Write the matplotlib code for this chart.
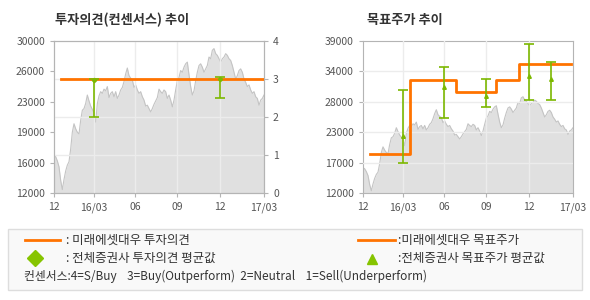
import numpy as np
import matplotlib
matplotlib.use("Agg")
import matplotlib.pyplot as plt
from matplotlib.patches import Rectangle
from matplotlib.lines import Line2D

plt.rcParams['font.family'] = ['Noto Sans CJK KR', 'DejaVu Sans']

# 주가 (일정 간격 샘플, 단위: 원)
price = [16500, 16300, 15800, 15100, 13500, 12400, 13600, 14600, 15300, 15700,
         17200, 19200, 20200, 19600, 19200, 19000, 20600, 21800, 22000, 22600,
         23600, 22900, 22300, 21900, 21500, 20400, 22600, 23500, 24000, 23800,
         24300, 24100, 24600, 23300, 23800, 24000, 23400, 24000, 23200, 23600,
         24200, 24500, 25200, 26100, 26800, 25900, 25600, 25400, 24500, 24800,
         24200, 23800, 24000, 23400, 23000, 22300, 22400, 22000, 21600, 22000,
         22500, 22900, 23300, 24300, 24000, 23800, 24200, 24000, 23200, 23600,
         23000, 22200, 23000, 24200, 25300, 25700, 26500, 26300, 26900, 27300,
         27500, 26000, 24600, 23600, 24100, 25300, 26300, 27100, 27300, 26900,
         26300, 26700, 27100, 28100, 27900, 28900, 29100, 28500, 28300, 27900,
         27500, 27900, 28100, 28500, 28300, 27900, 27700, 27100, 26300, 25500,
         25900, 26500, 26700, 26300, 25500, 25100, 24600, 24800, 24200, 23800,
         24000, 23400, 23200, 22400, 23000, 23200, 23600]
x = np.arange(len(price))

xtick_pos = [0, 24, 48.6, 73.8, 99.4, 126]
xtick_lab = ["12", "16/03", "06", "09", "12", "17/03"]

# 투자의견
opinion_x = [4, 125.4]
opinion_val = [3, 3]
cons_x = [24, 99.4]
cons_mean = [2.98, 3.0]
cons_low = [2.0, 2.5]
cons_high = [3.0, 3.05]

# 목표주가
target_x = [4, 28, 55.6, 79.6, 93.4, 125]
target_val = [19000, 32000, 30000, 32000, 35000, 35000]
tp_x = [24, 48.4, 73.8, 99.6, 113]
tp_mean = [22100, 30800, 29200, 32700, 32300]
tp_low = [17400, 25400, 27300, 28500, 28500]
tp_high = [30300, 34300, 32300, 38400, 35200]

orange = '#ff7300'
green = '#7cb800'
gray_txt = '#555555'
spine_c = '#b4b4b4'
grid_c = '#ececec'

fig = plt.figure(figsize=(5.9, 3.0), dpi=100)


def style(ax, ymin, ymax):
    ax.set_xlim(0, len(price) - 1)
    ax.set_ylim(ymin, ymax)
    ax.fill_between(x, ymin, price, color='#e0e0e0', lw=0, zorder=1)
    ax.plot(x, price, color='#c4c4c4', lw=0.8, zorder=2)
    ax.set_xticks(xtick_pos)
    ax.set_xticklabels(xtick_lab)
    ticks = np.linspace(ymin, ymax, 6)
    ax.set_yticks(ticks)
    ax.set_yticklabels(["%d" % (round(t / 1000) * 1000) for t in ticks])
    for v in xtick_pos[1:-1]:
        ax.axvline(v, color=grid_c, lw=1.0, zorder=3)
    for s in ax.spines.values():
        s.set_color(spine_c)
    ax.tick_params(colors=spine_c, labelcolor=gray_txt, labelsize=7.5, length=3)


# ---- 투자의견(컨센서스) 추이 ----
ax1 = fig.add_axes([54 / 590, 1 - 193 / 300, 210 / 590, 152 / 300])
style(ax1, 12000, 30000)
ax1b = ax1.twinx()
ax1b.set_ylim(0, 4)
ax1b.set_yticks([0, 1, 2, 3, 4])
for v in [1, 2, 3]:
    ax1b.axhline(v, color=grid_c, lw=1.0, zorder=1)
ax1b.tick_params(colors=spine_c, labelcolor=gray_txt, labelsize=7.5, length=3)
for s in ax1b.spines.values():
    s.set_color(spine_c)
ax1b.plot(opinion_x, opinion_val, color=orange, lw=2.0, zorder=4)
err = [np.array(cons_mean) - np.array(cons_low), np.array(cons_high) - np.array(cons_mean)]
ax1b.errorbar(cons_x, cons_mean, yerr=err, fmt='D', ms=2.2, color=green,
              elinewidth=1.2, capsize=3.5, capthick=1.2, zorder=5)
fig.text(55 / 590, 1 - 20 / 300, "투자의견(컨센서스) 추이", fontsize=9.5, fontweight='bold',
         color='#333333', va='center')

# ---- 목표주가 추이 ----
ax2 = fig.add_axes([363 / 590, 1 - 193 / 300, 210 / 590, 152 / 300])
style(ax2, 12000, 39000)
for t in np.linspace(12000, 39000, 6)[1:-1]:
    ax2.axhline(t, color=grid_c, lw=1.0, zorder=3)
ax2.step(target_x, target_val, where='post', color=orange, lw=2.0, zorder=4)
err2 = [np.array(tp_mean) - np.array(tp_low), np.array(tp_high) - np.array(tp_mean)]
ax2.errorbar(tp_x, tp_mean, yerr=err2, fmt='^', ms=2.6, color=green,
             elinewidth=1.2, capsize=3.5, capthick=1.2, zorder=5)
fig.text(367 / 590, 1 - 20 / 300, "목표주가 추이", fontsize=9.5, fontweight='bold',
         color='#333333', va='center')

# ---- 범례 ----
fig.patches.append(Rectangle((8 / 590, 1 - 290 / 300), 574 / 590, 61 / 300,
                             transform=fig.transFigure, facecolor='#f9f9f9',
                             edgecolor='#dddddd', lw=1.0))


def fy(py):
    return 1 - py / 300


def fx(px):
    return px / 590


fig.lines.append(Line2D([fx(25), fx(60)], [fy(240), fy(240)], transform=fig.transFigure,
                        color=orange, lw=2.0))
fig.lines.append(Line2D([fx(358), fx(395)], [fy(240), fy(240)], transform=fig.transFigure,
                        color=orange, lw=2.0))
fig.lines.append(Line2D([fx(35)], [fy(258)], transform=fig.transFigure, marker='D',
                        ms=8, color='#86c400', lw=0))
fig.lines.append(Line2D([fx(372)], [fy(259)], transform=fig.transFigure, marker='^',
                        ms=7, color='#86c400', lw=0))
lt = dict(fontsize=9, color='#333333', va='center')
fig.text(fx(66), fy(240), ": 미래에셋대우 투자의견", **lt)
fig.text(fx(398), fy(240), ":미래에셋대우 목표주가", **lt)
fig.text(fx(66), fy(258), ": 전체증권사 투자의견 평균값", **lt)
fig.text(fx(398), fy(258), ":전체증권사 목표주가 평균값", **lt)
fig.text(fx(24), fy(276), "컨센서스:4=S/Buy    3=Buy(Outperform)  2=Neutral    1=Sell(Underperform)",
         fontsize=8.5, color='#333333', va='center')

fig.savefig("out.png", dpi=100)
